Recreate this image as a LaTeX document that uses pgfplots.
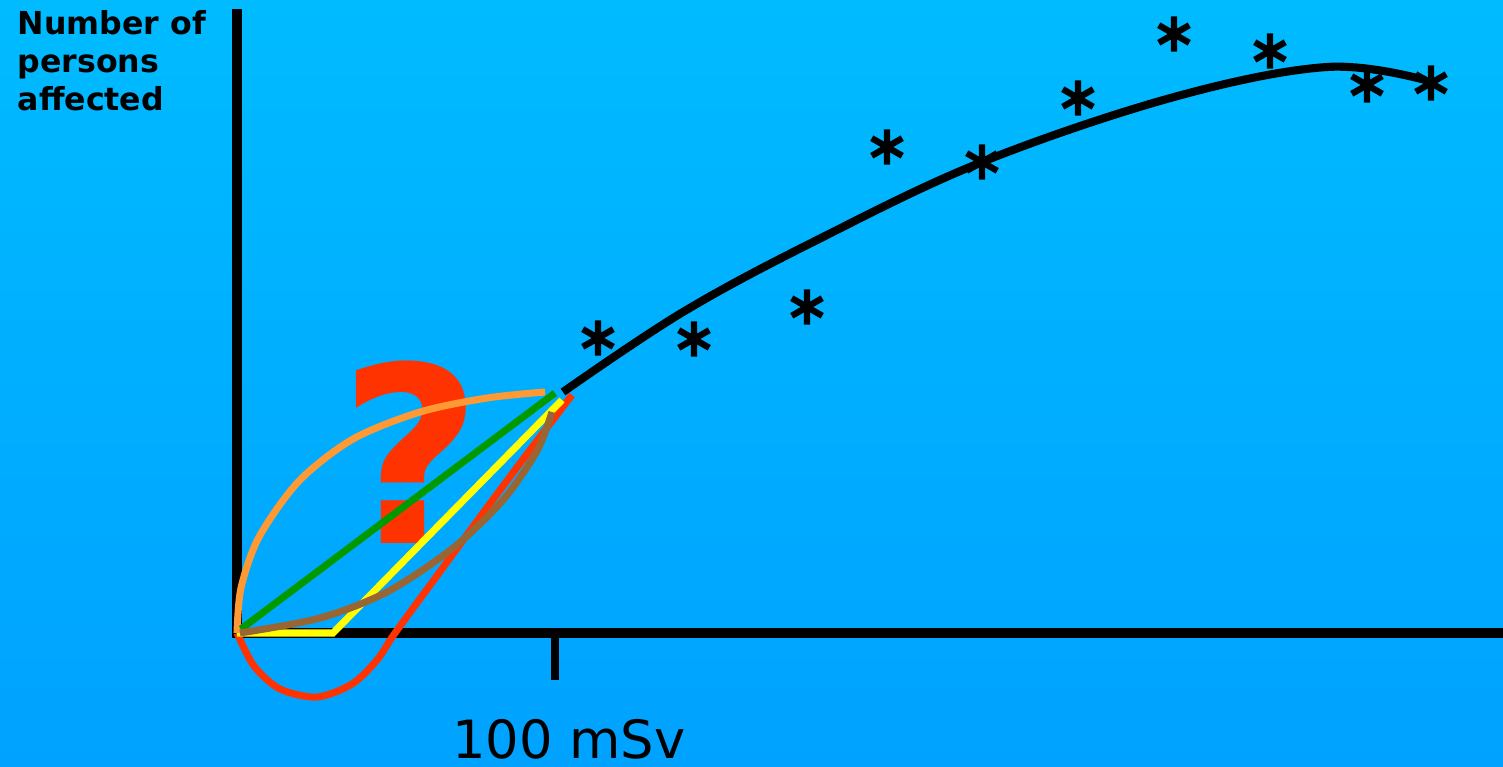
\documentclass[border=0pt]{standalone}
\usepackage{fontspec}
\setmainfont{DejaVu Sans}
\usepackage{pgfplots}
\pgfplotsset{compat=1.18}

\definecolor{bgtop}{RGB}{0,187,255}
\definecolor{bgbot}{RGB}{0,162,255}
\definecolor{qred}{RGB}{255,51,0}
\definecolor{corange}{RGB}{255,153,51}
\definecolor{cgreen}{RGB}{0,153,0}
\definecolor{cyellow}{RGB}{255,255,0}
\definecolor{cbrown}{RGB}{153,102,51}

\begin{document}
\begin{tikzpicture}
% 1 unit = 0.1 mm; origin of the dose axis at (0,0)
\begin{axis}[
    width=150.3mm, height=76.6mm,
    scale only axis,
    xmin=-237, xmax=1266,
    ymin=-133, ymax=633,
    axis lines=none,
    xtick=\empty, ytick=\empty,
    axis background/.style={top color=bgtop, bottom color=bgbot},
    clip=true,
]
    % question mark sits under the curves
    \node[anchor=base, text=qred, inner sep=0pt,
          font=\fontsize{70}{70}\selectfont\bfseries] at (axis cs:174,90) {?};

    % axes
    \addplot[black, line width=2.6pt, line join=miter, mark=none]
        coordinates {(0,624) (0,0) (1266,0)};
    \addplot[black, line width=2.2pt, mark=none]
        coordinates {(318,0) (318,-47)};

    % hypotheses below 100 mSv
    \addplot[qred, line width=2pt, smooth, tension=0.5, mark=none]
        coordinates {(0,0) (17,-33) (43,-56) (80,-64) (115,-51) (140,-27)
                     (158,0) (202,60) (246,120) (290,179) (335,238)};
    \addplot[cyellow, line width=2pt, mark=none]
        coordinates {(0,0) (96,0) (325,233)};
    \addplot[corange, line width=2pt, smooth, tension=0.5, mark=none]
        coordinates {(0,0) (4,45) (22,96) (62,152) (116,194) (183,221)
                     (250,235) (308,241)};
    \addplot[cgreen, line width=2pt, mark=none]
        coordinates {(4,4) (318,240)};
    \addplot[cbrown, line width=2pt, smooth, tension=0.5, mark=none]
        coordinates {(3,0) (83,15) (150,41) (216,85) (266,133) (300,182) (315,221)};

    % fitted curve
    \addplot[black, line width=2.3pt, smooth, tension=0.6, mark=none]
        coordinates {(326,241) (446,321) (580,393) (745,471) (937,536)
                     (1090,566) (1188,553)};

    % observations
    \addplot[only marks, mark=asterisk, mark size=5pt, black,
             mark options={line width=1.8pt}]
        coordinates {(361,295) (457,294) (570,326) (650,486) (745,471)
                     (841,535) (937,599) (1033,582) (1130,548) (1194,550)};

    \node[anchor=base, inner sep=0pt, font=\fontsize{15}{18}\selectfont]
        at (axis cs:332,-125) {100 mSv};
    \node[anchor=base west, inner sep=0pt, align=left,
          font=\fontsize{9}{10.7}\selectfont\bfseries]
        at (axis cs:-220,523) {Number of\\persons\\affected};
\end{axis}
\end{tikzpicture}
\end{document}
